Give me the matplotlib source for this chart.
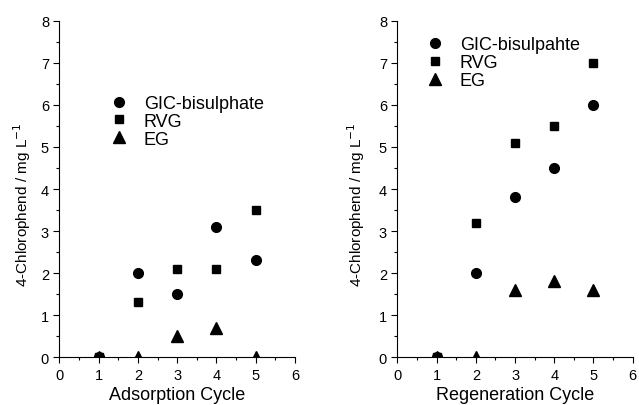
import matplotlib.pyplot as plt
import numpy as np

plt.rcParams['font.family'] = ['Liberation Sans', 'DejaVu Sans']

cycles = [1, 2, 3, 4, 5]

# adsorption
ads_gic = [0, 2.0, 1.5, 3.1, 2.3]
ads_rvg = [0, 1.3, 2.1, 2.1, 3.5]
ads_eg = [0, 0, 0.5, 0.7, 0]

# regeneration
reg_gic = [0, 2.0, 3.8, 4.5, 6.0]
reg_rvg = [0, 3.2, 5.1, 5.5, 7.0]
reg_eg = [0, 0, 1.6, 1.8, 1.6]

xticks = [0, 1, 2, 3, 4, 5, 6]
yticks = [0, 1, 2, 3, 4, 5, 6, 7, 8]

fig = plt.figure(figsize=(6.39, 4.06), dpi=100)
ax1 = fig.add_axes([0.093, 0.118, 0.3685, 0.828])
ax2 = fig.add_axes([0.622, 0.118, 0.368, 0.828])


def panel(ax, gic, rvg, eg, gic_name, xlabel, leg_pos, ylab_x):
    ax.plot(cycles, gic, 'ko', ms=7, ls='none', label=gic_name)
    ax.plot(cycles, rvg, 'ks', ms=6, ls='none', label='RVG')
    ax.plot(cycles, eg, 'k^', ms=8, ls='none', label='EG')
    ax.set_xlim(0, 6)
    ax.set_ylim(0, 8)
    ax.set_xticks(xticks)
    ax.set_yticks(yticks)
    ax.set_xticks(np.arange(0.5, 6, 1), minor=True)
    ax.set_yticks(np.arange(0.5, 8, 1), minor=True)
    ax.tick_params(which='major', direction='out', length=4.5, width=0.8, labelsize=10.5, pad=3)
    ax.tick_params(which='minor', direction='out', length=2, width=0.8)
    for s in ['top', 'right']:
        ax.spines[s].set_visible(False)
    ax.set_xlabel(xlabel, fontsize=13, labelpad=3.5)
    ax.set_ylabel('4-Chlorophend / mg L$^{-1}$', fontsize=11)
    ax.yaxis.set_label_coords(ylab_x, 0.455)
    ax.legend(loc='upper left', bbox_to_anchor=leg_pos, frameon=False,
              fontsize=13, handletextpad=0.79, labelspacing=0.05,
              borderpad=0, borderaxespad=0, handlelength=1.2)


panel(ax1, ads_gic, ads_rvg, ads_eg, 'GIC-bisulphate', 'Adsorption Cycle', (0.206, 0.78), -0.113)
panel(ax2, reg_gic, reg_rvg, reg_eg, 'GIC-bisulpahte', 'Regeneration Cycle', (0.112, 0.954), -0.131)

fig.savefig('out.png', dpi=100)
